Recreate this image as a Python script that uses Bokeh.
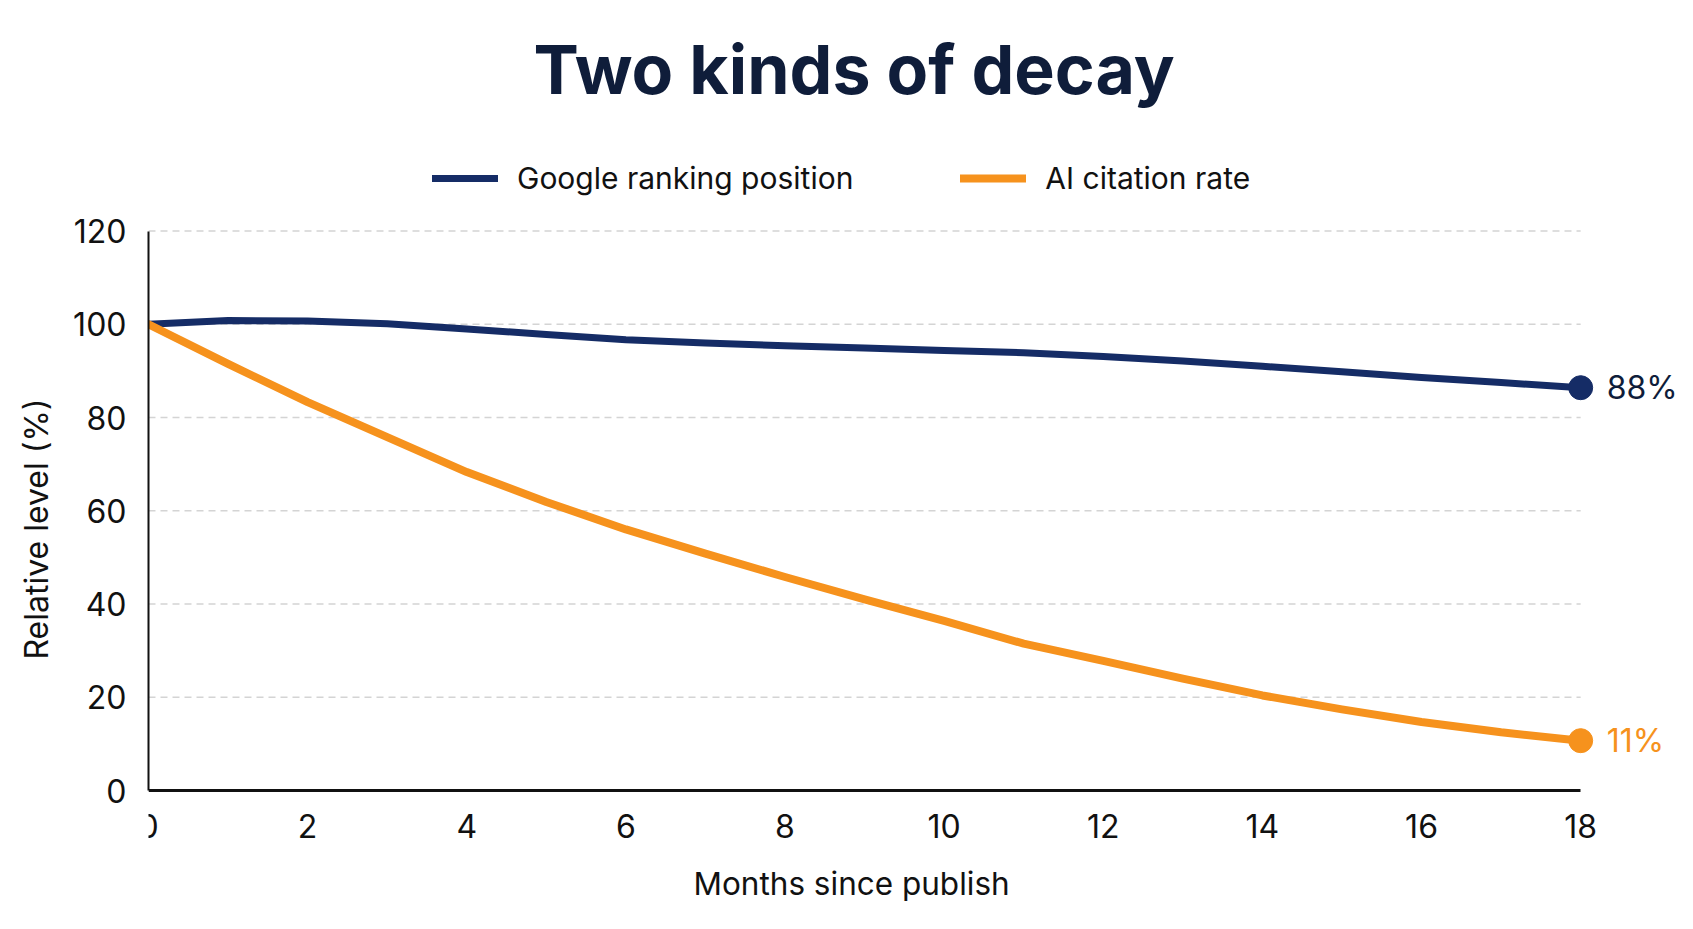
from bokeh.plotting import figure
from bokeh.models import Range1d, FixedTicker, Legend, LegendItem, ColumnDataSource, Title
from bokeh.core.properties import value
from bokeh.embed import file_html
from bokeh.resources import INLINE

# ---- data ----
months = list(range(0, 19))
google_ranking = [100, 100.8, 100.7, 100.1, 99.0, 97.8, 96.7, 96.0, 95.4, 94.9,
                  94.4, 93.9, 93.1, 92.1, 91.0, 89.8, 88.6, 87.5, 86.4]
ai_citation = [100, 91.5, 83.3, 75.8, 68.3, 61.9, 56.0, 50.8, 45.8, 41.0,
               36.4, 31.5, 27.8, 24.0, 20.4, 17.4, 14.7, 12.5, 10.7]
series_names = ["Google ranking position", "AI citation rate"]
end_labels = ["88%", "11%"]
x_ticks = list(range(0, 19, 2))
y_ticks = [0, 20, 40, 60, 80, 100, 120]
grid_levels = [20, 40, 60, 80, 100, 120]
x_title = "Months since publish"
y_title = "Relative level (%)"

NAVY = "#152c66"
TEXT_NAVY = "#0f1d3a"
ORANGE = "#f6921d"
INK = "#111111"
FONT = "Inter"

# frame extends a little below y=0 so the x tick labels (axis pinned at 0) stay visible
p = figure(width=1677, height=913, output_backend="svg", toolbar_location=None,
           x_range=Range1d(0, 19.217), y_range=Range1d(-13.07, 140.7),
           min_border_left=146, min_border_right=0, min_border_bottom=61,
           min_border_top=0)
p.outline_line_color = None
p.background_fill_color = "white"
p.border_fill_color = "white"
p.xgrid.visible = False
p.ygrid.visible = False

# title
p.title.text = "Two kinds of decay"
p.title.text_font = FONT
p.title.text_font_size = "68px"
p.title.text_font_style = "bold"
p.title.text_color = TEXT_NAVY
p.title.align = "left"
p.title.offset = 385
p.title.standoff = 50

# dashed grid lines that stop at month 18
gsrc = ColumnDataSource(dict(x0=[months[0]] * len(grid_levels),
                             x1=[months[-1]] * len(grid_levels),
                             y=grid_levels))
p.segment(x0="x0", x1="x1", y0="y", y1="y", source=gsrc,
          line_color="#d4d4d4", line_width=1.5, line_dash="7 5")

# lines
r1 = p.line(months, google_ranking, line_color=NAVY, line_width=7,
            line_cap="round", line_join="round")
r2 = p.line(months, ai_citation, line_color=ORANGE, line_width=8,
            line_cap="round", line_join="round")

# end markers
p.scatter([months[-1]], [google_ranking[-1]], size=24, color=NAVY)
p.scatter([months[-1]], [ai_citation[-1]], size=24, color=ORANGE)
p.text([months[-1]], [google_ranking[-1]], text=[end_labels[0]], x_offset=26,
       text_baseline="middle", text_align="left", text_font=value(FONT),
       text_font_size="32px", text_color=TEXT_NAVY)
p.text([months[-1]], [ai_citation[-1]], text=[end_labels[1]], x_offset=26,
       text_baseline="middle", text_align="left", text_font=value(FONT),
       text_font_size="32px", text_color=ORANGE)

# axes
xax = p.xaxis[0]
yax = p.yaxis[0]
for ax in (xax, yax):
    ax.major_tick_line_color = None
    ax.minor_tick_line_color = None
    ax.major_tick_out = 0
    ax.major_tick_in = 0
    ax.axis_line_color = INK
    ax.major_label_text_font = FONT
    ax.major_label_text_font_size = "32px"
    ax.major_label_text_color = INK

xax.ticker = FixedTicker(ticks=x_ticks)
yax.ticker = FixedTicker(ticks=y_ticks)
xax.bounds = (months[0], months[-1])
yax.bounds = (y_ticks[0], y_ticks[-1])
xax.fixed_location = y_ticks[0]
xax.axis_line_width = 3
yax.axis_line_width = 2
xax.major_label_standoff = 23
yax.major_label_standoff = 22

# axis titles as side-panel titles
p.add_layout(Title(text=x_title, align="left", offset=545, standoff=21,
                   text_font=FONT, text_font_size="31.5px",
                   text_font_style="normal", text_color=INK), "below")
p.add_layout(Title(text=y_title, align="left", offset=192, standoff=29,
                   text_font=FONT, text_font_size="32px",
                   text_font_style="normal", text_color=INK), "left")

legend = Legend(items=[LegendItem(label=series_names[0], renderers=[r1]),
                       LegendItem(label=series_names[1], renderers=[r2])],
                orientation="horizontal", location=(284, 655),
                glyph_width=66, glyph_height=20, label_standoff=19, spacing=107,
                padding=0, margin=0, border_line_color=None,
                background_fill_alpha=0,
                label_text_font=FONT, label_text_font_size="30px",
                label_text_color=INK)
p.add_layout(legend, "center")

open("out.html", "w").write(file_html(p, INLINE))
